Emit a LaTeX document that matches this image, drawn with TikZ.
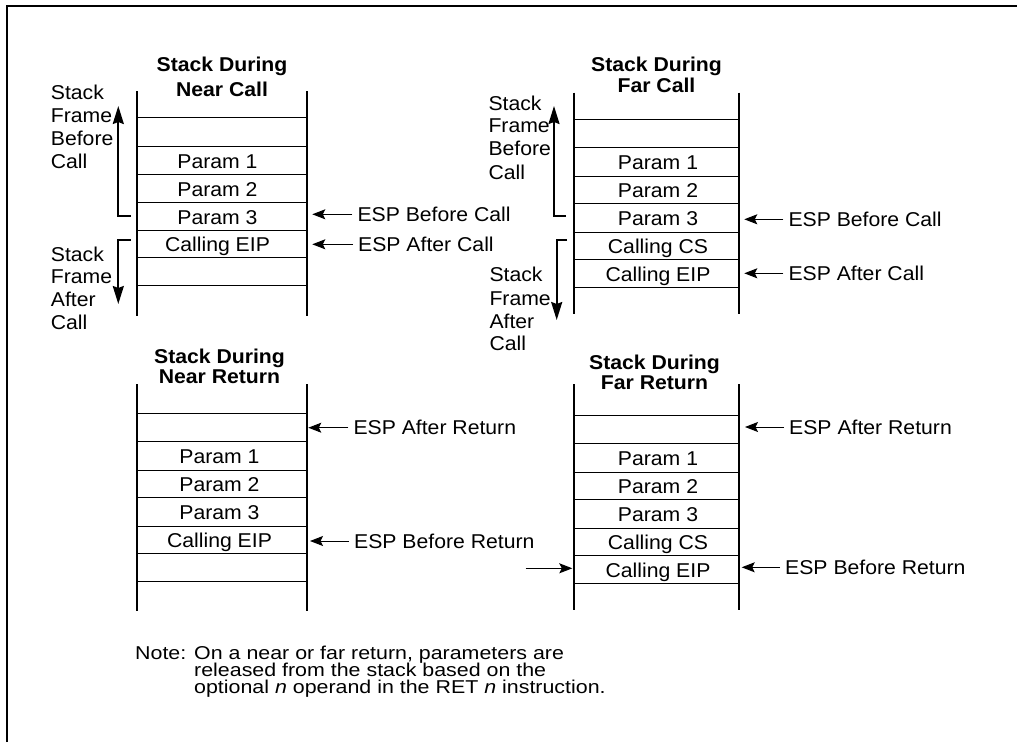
\documentclass[tikz,border=0pt]{standalone}
\usepackage{fontspec}
\setmainfont{Liberation Sans}[FakeStretch=1.06]
\newfontfamily\notefont{Liberation Sans}[FakeStretch=1.15]
\usetikzlibrary{arrows.meta}
\begin{document}
\begin{tikzpicture}[x=1pt,y=-1pt,
  wall/.style={line width=2pt},
  sepline/.style={line width=1pt},
  cell/.style={font=\fontsize{20}{23}\selectfont, inner sep=0pt, anchor=base},
  ttl/.style={font=\fontsize{20}{23}\selectfont\bfseries, inner sep=0pt, anchor=base},
  lbl/.style={font=\fontsize{20}{23}\selectfont, inner sep=0pt, anchor=base west},
  esplbl/.style={font=\fontsize{20}{23}\selectfont, anchor=west, inner xsep=5pt, inner ysep=0pt, text height=14.3pt, text depth=0pt},
  esp/.style={-{Stealth[length=13pt,width=10pt,inset=2.5pt]}, line width=1pt},
  brk/.style={-{Stealth[length=18pt,width=11pt,inset=2pt]}, line width=2pt},
  notetext/.style={font=\notefont\fontsize{18.6}{17}\selectfont, inner sep=0pt, anchor=base west}
]
\useasboundingbox (0,0) rectangle (1017,742);
% frame (top and left)
\draw[line width=2.2pt] (6.8,742) -- (6.8,6.2) -- (1017,6.2);

% ================= Near Call =================
\foreach \y in {117.3,146,174,202.3,230,257.3,285.3}
  \draw[sepline] (136.7,\y) -- (306.7,\y);
\draw[wall] (136.7,91) -- (136.7,315.7);
\draw[wall] (306.7,91) -- (306.7,315.7);
\node[ttl] (nct1) at (222,71) {Stack During};
\node[ttl] (nct2) at (222,96.7) {Near Call};
\node[cell] (ncp1) at (217.5,168) {Param 1};
\node[cell] (ncp2) at (217.5,196) {Param 2};
\node[cell] (ncp3) at (217.5,224) {Param 3};
\node[cell] (nceip) at (217.5,251.5) {Calling EIP};
\node[esplbl] (ncb) at (352.3,214.3) {ESP Before Call};
\node[esplbl] (nca) at (353,244.3) {ESP After Call};
\coordinate (ncbt) at (312.3,214.3);
\coordinate (ncat) at (312.3,244.3);
\draw[esp] (ncb.west) -- (ncbt);
\draw[esp] (nca.west) -- (ncat);
\node[lbl] (ncl1) at (50.7,99.3) {Stack};
\node[lbl] (ncl2) at (50.7,122.3) {Frame};
\node[lbl] (ncl3) at (50.7,145.3) {Before};
\node[lbl] (ncl4) at (50.7,168.3) {Call};
\node[lbl] (ncl5) at (50.7,261) {Stack};
\node[lbl] (ncl6) at (50.7,283.8) {Frame};
\node[lbl] (ncl7) at (50.7,306.7) {After};
\node[lbl] (ncl8) at (50.7,329.7) {Call};
\coordinate (ncb1) at (130.7,216);
\coordinate (ncb2) at (118.3,216);
\coordinate (ncb3) at (118.3,106);
\draw[brk] (ncb1) -- (ncb2) -- (ncb3);
\coordinate (nca1) at (130.7,240);
\coordinate (nca2) at (118.3,240);
\coordinate (nca3) at (118.3,304);
\draw[brk] (nca1) -- (nca2) -- (nca3);

% ================= Far Call =================
\foreach \y in {119,147.3,176.3,203.3,232.3,259.3,287.3}
  \draw[sepline] (574.3,\y) -- (738.7,\y);
\draw[wall] (574.3,92.7) -- (574.3,314.3);
\draw[wall] (738.7,92.7) -- (738.7,314.3);
\node[ttl] (fct1) at (656.5,71.7) {Stack During};
\node[ttl] (fct2) at (656.5,92.7) {Far Call};
\node[cell] (fcp1) at (658,169.6) {Param 1};
\node[cell] (fcp2) at (658,197.6) {Param 2};
\node[cell] (fcp3) at (658,225.6) {Param 3};
\node[cell] (fccs) at (658,253.6) {Calling CS};
\node[cell] (fceip) at (658,281.1) {Calling EIP};
\node[esplbl] (fcb) at (783.3,219.3) {ESP Before Call};
\node[esplbl] (fca) at (783.3,273.3) {ESP After Call};
\coordinate (fcbt) at (744.3,219.3);
\coordinate (fcat) at (744.3,273.3);
\draw[esp] (fcb.west) -- (fcbt);
\draw[esp] (fca.west) -- (fcat);
\node[lbl] (fcl1) at (488.3,110) {Stack};
\node[lbl] (fcl2) at (488.3,132.7) {Frame};
\node[lbl] (fcl3) at (488.3,155.7) {Before};
\node[lbl] (fcl4) at (488.3,179) {Call};
\node[lbl] (fcl5) at (489.3,281.7) {Stack};
\node[lbl] (fcl6) at (489.3,305) {Frame};
\node[lbl] (fcl7) at (489.3,328.3) {After};
\node[lbl] (fcl8) at (489.3,350) {Call};
\coordinate (fcb1) at (566,215.7);
\coordinate (fcb2) at (554,215.7);
\coordinate (fcb3) at (554,106);
\draw[brk] (fcb1) -- (fcb2) -- (fcb3);
\coordinate (fca1) at (567,240);
\coordinate (fca2) at (556.7,240);
\coordinate (fca3) at (556.7,320);
\draw[brk] (fca1) -- (fca2) -- (fca3);

% ================= Near Return =================
\foreach \y in {413.3,441.3,470.3,497.3,526.3,553.3,581}
  \draw[sepline] (136.7,\y) -- (306.7,\y);
\draw[wall] (136.7,384.3) -- (136.7,610.7);
\draw[wall] (306.7,384.3) -- (306.7,610.7);
\node[ttl] (nrt1) at (219.5,363.3) {Stack During};
\node[ttl] (nrt2) at (219.5,383.3) {Near Return};
\node[cell] (nrp1) at (219.5,463.6) {Param 1};
\node[cell] (nrp2) at (219.5,491.6) {Param 2};
\node[cell] (nrp3) at (219.5,519.6) {Param 3};
\node[cell] (nreip) at (219.5,547.6) {Calling EIP};
\node[esplbl] (nra) at (348.3,427.7) {ESP After Return};
\node[esplbl] (nrb) at (349,541) {ESP Before Return};
\coordinate (nrat) at (308.3,427.7);
\coordinate (nrbt) at (310,541);
\draw[esp] (nra.west) -- (nrat);
\draw[esp] (nrb.west) -- (nrbt);

% ================= Far Return =================
\foreach \y in {415.3,443.3,472.3,499.7,528.3,555.3,583.3}
  \draw[sepline] (574.3,\y) -- (738.7,\y);
\draw[wall] (574.3,384.3) -- (574.3,610);
\draw[wall] (738.7,384.3) -- (738.7,610);
\node[ttl] (frt1) at (654.5,369.3) {Stack During};
\node[ttl] (frt2) at (654.5,389.3) {Far Return};
\node[cell] (frp1) at (658,465.6) {Param 1};
\node[cell] (frp2) at (658,493.8) {Param 2};
\node[cell] (frp3) at (658,521.8) {Param 3};
\node[cell] (frcs) at (658,549.6) {Calling CS};
\node[cell] (freip) at (658,577.1) {Calling EIP};
\node[esplbl] (fra) at (784,427) {ESP After Return};
\node[esplbl] (frb) at (780,567.3) {ESP Before Return};
\coordinate (frat) at (745,427);
\coordinate (frbt) at (741.7,567.3);
\draw[esp] (fra.west) -- (frat);
\draw[esp] (frb.west) -- (frbt);
\coordinate (frin) at (525.7,568.3);
\coordinate (frint) at (572.3,568.3);
\draw[esp] (frin) -- (frint);

% ================= Note =================
\node[notetext] (n1) at (135,659.3) {Note: On a near or far return, parameters are};
\node[notetext] (n2) at (194,676.3) {released from the stack based on the};
\node[notetext] (n3) at (194,693.3) {optional \textit{n} operand in the RET \textit{n} instruction.};
\end{tikzpicture}
\end{document}
